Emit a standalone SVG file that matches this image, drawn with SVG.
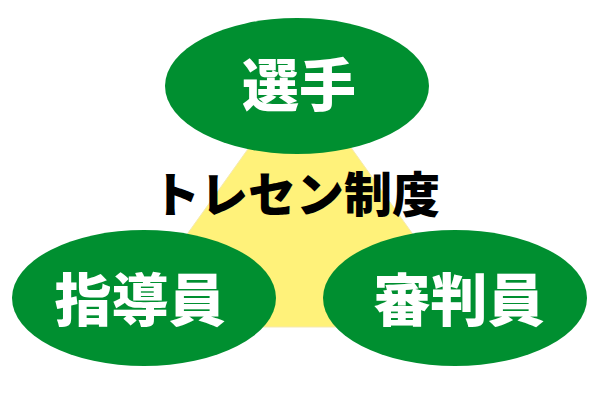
<svg xmlns="http://www.w3.org/2000/svg" width="600" height="400" viewBox="0 0 600 400">
<style>
.node ellipse{fill:#008f30}
.lbl{font-family:"Noto Sans CJK JP","Noto Sans",sans-serif;font-weight:900;fill:#fff;text-anchor:middle;font-size:57px}
.title{font-family:"Noto Sans CJK JP","Noto Sans",sans-serif;font-weight:900;fill:#000;text-anchor:middle;font-size:48px}
</style>
<rect width="600" height="400" fill="#fff"/>
<g id="connectors">
<polygon points="300,76 121,327 479,327" fill="#fff27a" stroke="#f5e9b0" stroke-width="1"/>
</g>
<g id="center"><text class="title" x="296" y="212">トレセン制度</text></g>
<g id="senshu" class="node"><ellipse cx="297" cy="86" rx="132" ry="68"/><text class="lbl" x="299" y="106">選手</text></g>
<g id="shidoin" class="node"><ellipse cx="144" cy="298" rx="132" ry="68"/><text class="lbl" x="140" y="321">指導員</text></g>
<g id="shinpanin" class="node"><ellipse cx="455" cy="298" rx="132" ry="68"/><text class="lbl" x="459" y="321">審判員</text></g>
</svg>
